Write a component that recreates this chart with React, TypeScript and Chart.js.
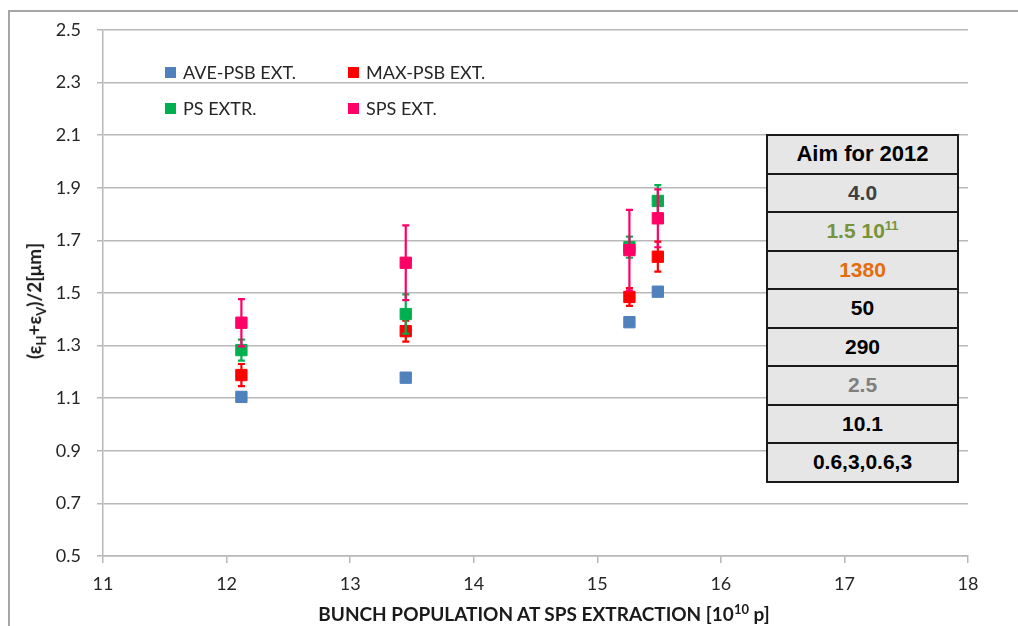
import React, { useEffect, useRef } from "react";
import { Chart, registerables } from "chart.js";

Chart.register(...registerables);

// ---- data ----
const xPositions = [12.12, 13.45, 15.26, 15.49];
const aveValues = [1.105, 1.178, 1.389, 1.505];
const maxValues = [1.188, 1.355, 1.485, 1.638];
const maxErrors = [0.042, 0.04, 0.034, 0.057];
const psValues = [1.283, 1.42, 1.674, 1.85];
const psErrors = [0.04, 0.075, 0.04, 0.06];
const spsValues = [1.387, 1.615, 1.663, 1.784];
const spsErrors = [0.09, 0.142, 0.153, 0.11];

const seriesNames = ["AVE-PSB EXT.", "MAX-PSB EXT.", "PS EXTR.", "SPS EXT."];
const seriesColors = ["#4F81BD", "#FF0000", "#00B050", "#FF0066"];

const xTickValues = [11, 12, 13, 14, 15, 16, 17, 18];
const yTickValues = [0.5, 0.7, 0.9, 1.1, 1.3, 1.5, 1.7, 1.9, 2.1, 2.3, 2.5];

const tableHeader = "Aim for 2012";
const tableValues = ["4.0", "1.5 10", "1380", "50", "290", "2.5", "10.1", "0.6,3,0.6,3"];
const tableSups = ["", "11", "", "", "", "", "", ""];
const tableColors = ["#404040", "#77933C", "#E46C0A", "#000000", "#000000", "#7F7F7F", "#000000", "#000000"];

const xTitle = "BUNCH POPULATION AT SPS EXTRACTION [10";
const xTitleSup = "10";
const xTitleEnd = " p]";

const FONT = "Lato, 'Open Sans', sans-serif";
const GRID = "#B8B8B8";

const errorBarPlugin = {
  id: "errorBars",
  beforeDatasetDraw(chart: any, args: any) {
    const ds = chart.data.datasets[args.index];
    const errs: number[] | undefined = ds.errors;
    if (!errs) return;
    const yScale = chart.scales.y;
    const ctx = chart.ctx;
    ctx.save();
    ctx.strokeStyle = ds.backgroundColor;
    ctx.lineWidth = 2.2;
    args.meta.data.forEach((pt: any, i: number) => {
      const v = ds.data[i].y;
      const e = errs[i];
      const top = yScale.getPixelForValue(v + e);
      const bot = yScale.getPixelForValue(v - e);
      const x = pt.x;
      ctx.beginPath();
      ctx.moveTo(x, top);
      ctx.lineTo(x, bot);
      ctx.moveTo(x - 3.5, top);
      ctx.lineTo(x + 3.5, top);
      ctx.moveTo(x - 3.5, bot);
      ctx.lineTo(x + 3.5, bot);
      ctx.stroke();
    });
    ctx.restore();
  },
};

function makeDataset(idx: number, values: number[], errors: number[] | null, order: number) {
  return {
    label: seriesNames[idx],
    data: values.map((y, i) => ({ x: xPositions[i], y })),
    errors: errors || undefined,
    backgroundColor: seriesColors[idx],
    borderColor: seriesColors[idx],
    borderWidth: 1,
    pointStyle: "rect",
    pointRadius: 8,
    pointHoverRadius: 8,
    showLine: false,
    order,
  };
}

export default function App() {
  const canvasRef = useRef<HTMLCanvasElement | null>(null);

  useEffect(() => {
    if (!canvasRef.current) return;
    const chart = new Chart(canvasRef.current, {
      type: "scatter",
      data: {
        datasets: [
          makeDataset(0, aveValues, null, 4),
          makeDataset(1, maxValues, maxErrors, 3),
          makeDataset(2, psValues, psErrors, 2),
          makeDataset(3, spsValues, spsErrors, 1),
        ] as any,
      },
      options: {
        responsive: false,
        animation: false,
        layout: { padding: { top: 30, right: 50, left: 0, bottom: 0 } },
        plugins: {
          legend: { display: false },
          tooltip: { enabled: false },
          title: { display: false },
        },
        scales: {
          x: {
            type: "linear",
            min: 11,
            max: 18,
            afterBuildTicks: (s: any) => {
              s.ticks = xTickValues.map((v) => ({ value: v }));
            },
            afterFit: (s: any) => {
              s.height = 70;
            },
            ticks: {
              color: "#262626",
              font: { family: FONT, size: 18 },
              padding: 10,
              maxRotation: 0,
              autoSkip: false,
            },
            grid: {
              drawOnChartArea: false,
              drawTicks: true,
              tickLength: 7,
              color: GRID,
              lineWidth: 1.5,
            },
            border: { color: GRID, width: 1.5 },
          },
          y: {
            type: "linear",
            min: 0.5,
            max: 2.5,
            afterBuildTicks: (s: any) => {
              s.ticks = yTickValues.map((v) => ({ value: v }));
            },
            afterFit: (s: any) => {
              s.width = 103;
            },
            ticks: {
              color: "#262626",
              font: { family: FONT, size: 18 },
              padding: 16,
              autoSkip: false,
              callback: (v: any) => Number(v).toFixed(1),
            },
            grid: {
              drawTicks: true,
              tickLength: 6,
              color: GRID,
              lineWidth: 1.5,
            },
            border: { color: GRID, width: 1.5 },
          },
        },
      },
      plugins: [errorBarPlugin],
    });
    return () => chart.destroy();
  }, []);

  const legendPos = [
    { left: 165, top: 72 },
    { left: 348, top: 72 },
    { left: 165, top: 108 },
    { left: 348, top: 108 },
  ];

  return (
    <div style={{ position: "absolute", left: 0, top: 0, width: 1018, height: 626, overflow: "hidden", background: "#fff" }}>
      <div
        style={{
          position: "absolute",
          left: 8,
          top: 10,
          width: 1200,
          height: 800,
          borderLeft: "2px solid #A6A6A6",
          borderTop: "2px solid #A6A6A6",
        }}
      />
      <canvas ref={canvasRef} width={1018} height={626} style={{ position: "absolute", left: 0, top: 0 }} />

      {/* legend */}
      {seriesNames.map((name, i) => (
        <div
          key={name}
          style={{
            position: "absolute",
            left: legendPos[i].left,
            top: legendPos[i].top - 12,
            height: 24,
            display: "flex",
            alignItems: "center",
            fontFamily: FONT,
            fontSize: 18,
            color: "#262626",
            whiteSpace: "nowrap",
          }}
        >
          <span style={{ display: "inline-block", width: 11, height: 11, background: seriesColors[i], marginRight: 7 }} />
          <span>{name}</span>
        </div>
      ))}

      {/* y title */}
      <div
        style={{
          position: "absolute",
          left: 36,
          top: 301,
          transform: "translate(-50%, -50%) rotate(-90deg)",
          fontFamily: FONT,
          fontWeight: 700,
          fontSize: 19,
          color: "#1a1a1a",
          whiteSpace: "nowrap",
          lineHeight: 1,
        }}
      >
        (ε<sub style={{ fontSize: 13 }}>H</sub>+ε<sub style={{ fontSize: 13 }}>V</sub>)/2[μm]
      </div>

      {/* x title */}
      <div
        style={{
          position: "absolute",
          left: 544,
          top: 613,
          transform: "translate(-50%, -50%)",
          fontFamily: FONT,
          fontWeight: 700,
          fontSize: 19,
          color: "#1a1a1a",
          whiteSpace: "nowrap",
          lineHeight: 1,
        }}
      >
        {xTitle}
        <sup style={{ fontSize: 13 }}>{xTitleSup}</sup>
        {xTitleEnd}
      </div>

      {/* table */}
      <div
        style={{
          position: "absolute",
          left: 766,
          top: 134,
          width: 193,
          boxSizing: "border-box",
          border: "2px solid #1a1a1a",
          background: "#E6E6E6",
          fontFamily: "'Liberation Sans', Arial, sans-serif",
          fontWeight: 700,
        }}
      >
        <div style={{ height: 36.5, display: "flex", alignItems: "center", justifyContent: "center", fontSize: 22, color: "#000" }}>
          {tableHeader}
        </div>
        {tableValues.map((v, i) => (
          <div
            key={i}
            style={{
              height: 36.5,
              borderTop: "2px solid #1a1a1a",
              display: "flex",
              alignItems: "center",
              justifyContent: "center",
              fontSize: 21,
              color: tableColors[i],
            }}
          >
            <span>
              {v}
              {tableSups[i] ? <sup style={{ fontSize: 13, lineHeight: 0 }}>{tableSups[i]}</sup> : null}
            </span>
          </div>
        ))}
      </div>
    </div>
  );
}
